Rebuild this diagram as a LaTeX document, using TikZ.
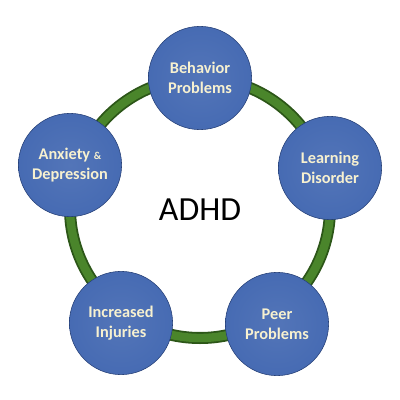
\documentclass[tikz,border=0pt]{standalone}
\usepackage{fontspec}
\setmainfont{Carlito}
\usepackage{xcolor}
\usetikzlibrary{positioning}
\definecolor{ringDark}{HTML}{2C5618}
\definecolor{ringGreen}{HTML}{4A852B}
\definecolor{ballBlue}{HTML}{4469B2}
\definecolor{ballEdge}{HTML}{2D4B8C}
\definecolor{ballText}{HTML}{F7F1D0}
\pgfdeclareradialshading{ballshade}{\pgfpoint{0bp}{0bp}}{%
  color(0bp)=(ballBlue!92!white); color(30bp)=(ballBlue); color(44bp)=(ballBlue);
  color(50bp)=(ballEdge); color(100bp)=(ballEdge)}

\begin{document}
\begin{tikzpicture}[x=0.025cm,y=-0.025cm]
\useasboundingbox (0,0) rectangle (400,400);
\coordinate (hub) at (200,208);
\draw[ringDark,line width=0.3cm] (hub) circle[radius=130];
\draw[ringGreen,line width=0.21cm] (hub) circle[radius=130];
\node[font=\fontsize{24}{28}\selectfont] (adhd) at (200,210) {ADHD};
\newcommand{\issueball}[4]{%
  \node[circle,minimum size=2.58cm,inner sep=0pt,draw=ballEdge!85!black,line width=0.4pt,
        shading=ballshade,text=ballText,align=center,
        font=\fontsize{11.6}{14.2}\selectfont\bfseries] (#1) at (#2,#3) {#4};
}
\issueball{behav}{200}{78}{Behavior\\Problems}
\issueball{learn}{330}{168}{Learning\\Disorder}
\issueball{peer}{277}{324}{Peer\\Problems}
\issueball{injur}{121}{323}{Increased\\Injuries}
\issueball{anxie}{70}{165}{Anxiety {\fontsize{7.5}{9}\selectfont\&}\\Depression}
\end{tikzpicture}
\end{document}
